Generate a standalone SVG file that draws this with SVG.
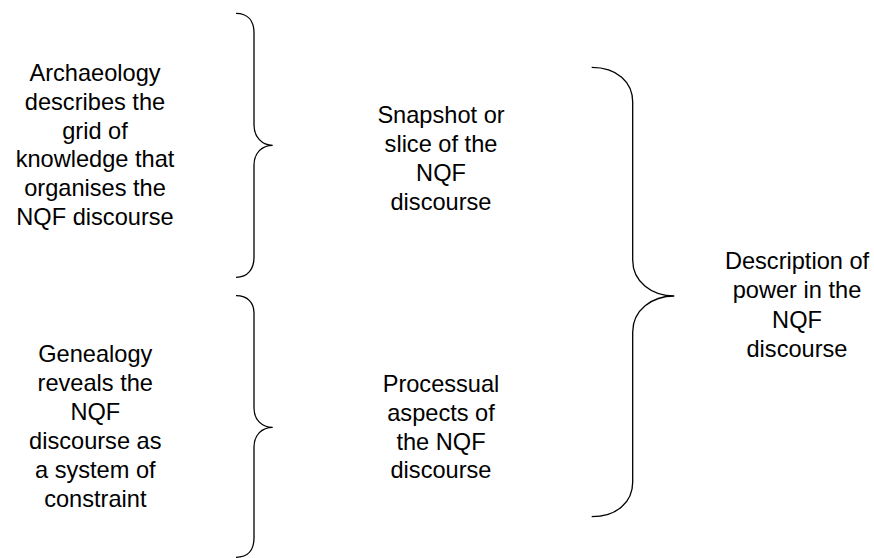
<svg xmlns="http://www.w3.org/2000/svg" width="874" height="558" viewBox="0 0 874 558">
<style>
.lbl{font-family:"Liberation Sans",Arial,sans-serif;font-size:23.6px;fill:#000;text-anchor:middle}
.brace{fill:none;stroke:#000;stroke-width:1.3}
</style>
<rect width="874" height="558" fill="#fff"/>
<g id="connectors">
<path class="brace" d="M236,13.3 C248,13.3 254,21 254,33 L254,125 C254,137 262,145.3 272.7,145.3 C262,145.3 254,153 254,165 L254,257 C254,269 248,277.3 236,277.3"/>
<path class="brace" d="M236,295.7 C248,295.7 254,303 254,313 L254,408 C254,420 262,427.3 272.7,427.3 C262,427.3 254,435 254,447 L254,538 C254,550 248,557.3 236,557.3"/>
<path class="brace" d="M591.7,67.3 C617,67.3 632.7,82 632.7,102 L632.7,260 C632.7,282 652,296 674.3,296 C652,296 632.7,310 632.7,332 L632.7,482 C632.7,502 617,516.7 591.7,516.7"/>
</g>
<g id="archaeology"><text class="lbl" x="95" y="80.7"><tspan x="95">Archaeology</tspan><tspan x="95" dy="28.9">describes the</tspan><tspan x="95" dy="28.9">grid of</tspan><tspan x="95" dy="28.9">knowledge that</tspan><tspan x="95" dy="28.9">organises the</tspan><tspan x="95" dy="28.9">NQF discourse</tspan></text></g>
<g id="genealogy"><text class="lbl" x="95.3" y="362.3"><tspan x="95.3">Genealogy</tspan><tspan x="95.3" dy="28.9">reveals the</tspan><tspan x="95.3" dy="28.9">NQF</tspan><tspan x="95.3" dy="28.9">discourse as</tspan><tspan x="95.3" dy="28.9">a system of</tspan><tspan x="95.3" dy="28.9">constraint</tspan></text></g>
<g id="snapshot"><text class="lbl" x="441" y="123.3"><tspan x="441">Snapshot or</tspan><tspan x="441" dy="29">slice of the</tspan><tspan x="441" dy="29">NQF</tspan><tspan x="441" dy="29">discourse</tspan></text></g>
<g id="processual"><text class="lbl" x="441" y="392.3"><tspan x="441">Processual</tspan><tspan x="441" dy="28.7">aspects of</tspan><tspan x="441" dy="28.7">the NQF</tspan><tspan x="441" dy="28.7">discourse</tspan></text></g>
<g id="description"><text class="lbl" x="797" y="269.3"><tspan x="797">Description of</tspan><tspan x="797" dy="29.1">power in the</tspan><tspan x="797" dy="29.1">NQF</tspan><tspan x="797" dy="29.1">discourse</tspan></text></g>
</svg>
